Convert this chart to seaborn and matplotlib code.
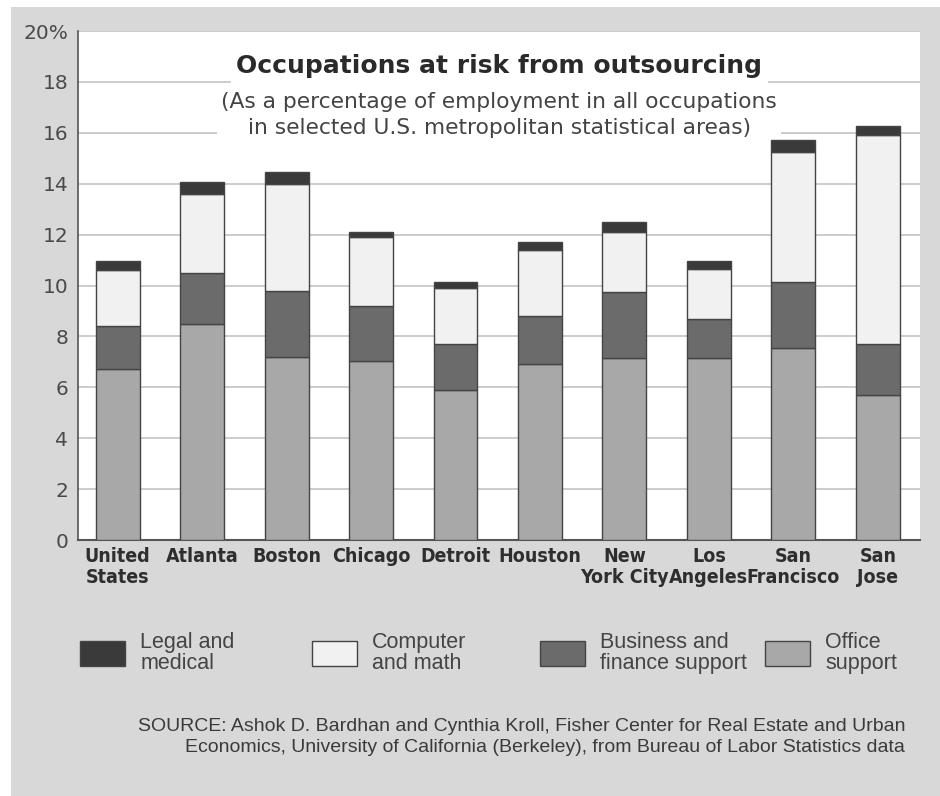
import matplotlib
matplotlib.use("Agg")
import matplotlib.pyplot as plt
from matplotlib.patches import Rectangle
import seaborn as sns
import numpy as np

cities = ["United\nStates", "Atlanta", "Boston", "Chicago", "Detroit", "Houston",
          "New\nYork City", "Los\nAngeles", "San\nFrancisco", "San\nJose"]
office_support = [6.7, 8.5, 7.2, 7.05, 5.9, 6.9, 7.15, 7.15, 7.55, 5.7]
business_finance = [1.7, 2.0, 2.6, 2.15, 1.8, 1.9, 2.6, 1.55, 2.6, 2.0]
computer_math = [2.2, 3.1, 4.2, 2.7, 2.2, 2.6, 2.35, 1.95, 5.1, 8.2]
legal_medical = [0.35, 0.45, 0.45, 0.2, 0.25, 0.3, 0.4, 0.3, 0.45, 0.35]
yticks = [0, 2, 4, 6, 8, 10, 12, 14, 16, 18, 20]
ytick_labels = ["0", "2", "4", "6", "8", "10", "12", "14", "16", "18", "20%"]

sns.set_theme(style="white")
plt.rcParams['font.family'] = ['Liberation Sans', 'DejaVu Sans']

bg = "#d8d8d8"
W, H = 940, 796
fig = plt.figure(figsize=(9.4, 7.96), dpi=100, facecolor="white")
fig.patches.append(Rectangle((11 / W, 0), 1 - 11 / W, 1 - 7 / H, transform=fig.transFigure,
                             facecolor=bg, edgecolor="none", zorder=-10))
ax = fig.add_axes([78 / W, 1 - 540 / H, 842 / W, 509 / H])
ax.set_facecolor("white")

series = [
    ("Office\nsupport", office_support, "#a8a8a8"),
    ("Business and\nfinance support", business_finance, "#6b6b6b"),
    ("Computer\nand math", computer_math, "#f1f1f1"),
    ("Legal and\nmedical", legal_medical, "#3a3a3a"),
]
bottom = np.zeros(len(cities))
handles = {}
for name, vals, col in series:
    sns.barplot(x=cities, y=vals, bottom=bottom, color=col, ax=ax, width=0.52,
                edgecolor="#444444", linewidth=1.0, label=name, saturation=1, zorder=3)
    handles[name] = ax.containers[-1]
    bottom = bottom + np.array(vals)
if ax.get_legend():
    ax.get_legend().remove()

ax.set_ylim(0, 20)
ax.set_xlim(-0.47, len(cities) - 0.5)
ax.set_yticks(yticks)
ax.set_yticklabels(ytick_labels)
ax.yaxis.grid(True, color="#c4c4c4", linewidth=1.2, zorder=0)
ax.set_axisbelow(True)
for s in ["top", "right"]:
    ax.spines[s].set_visible(False)
ax.spines["left"].set_color("#555555")
ax.spines["bottom"].set_color("#555555")
ax.spines["left"].set_linewidth(1.2)
ax.spines["bottom"].set_linewidth(1.5)
ax.tick_params(axis="y", length=0, pad=7)
for lbl in ax.get_yticklabels():
    lbl.set_fontfamily(['DejaVu Sans'])
    lbl.set_fontsize(14.5)
    lbl.set_color("#4a4a4a")
ax.tick_params(axis="x", length=0, pad=5)
for lbl in ax.get_xticklabels():
    lbl.set_fontfamily(['DejaVu Sans'])
    lbl.set_fontstretch("condensed")
    lbl.set_fontweight("bold")
    lbl.set_fontsize(14)
    lbl.set_color("#2e2e2e")
    lbl.set_verticalalignment("top")
    lbl.set_linespacing(1.15)

ax.text(0.5, 0.932, "Occupations at risk from outsourcing", transform=ax.transAxes,
        ha="center", va="center", fontsize=18, fontweight="bold", color="#2a2a2a",
        fontfamily=['DejaVu Sans'], zorder=2,
        bbox=dict(facecolor="white", edgecolor="none", pad=4))
ax.text(0.5, 0.835, "(As a percentage of employment in all occupations\nin selected U.S. metropolitan statistical areas)",
        transform=ax.transAxes, ha="center", va="center", fontsize=15.7, color="#444444",
        fontfamily=['DejaVu Sans'], linespacing=1.33, zorder=2,
        bbox=dict(facecolor="white", edgecolor="none", pad=3))

order = ["Legal and\nmedical", "Computer\nand math", "Business and\nfinance support", "Office\nsupport"]
square_x = [80, 312, 540, 765]
for name, sx in zip(order, square_x):
    leg = fig.legend([handles[name]], [name], loc="center left",
                     bbox_to_anchor=(sx / W, 1 - 653 / H), frameon=False,
                     fontsize=15.5, handlelength=2.1, handleheight=1.4, handletextpad=0.7,
                     borderpad=0, borderaxespad=0)
    for t in leg.get_texts():
        t.set_color("#444444")
        t.set_linespacing(1.0)

fig.text(905 / W, 1 - 737 / H,
         "SOURCE: Ashok D. Bardhan and Cynthia Kroll, Fisher Center for Real Estate and Urban\n"
         "Economics, University of California (Berkeley), from Bureau of Labor Statistics data",
         ha="right", va="center", multialignment="right", fontsize=14, color="#3a3a3a",
         fontfamily=['Liberation Sans'], linespacing=1.3)

fig.savefig("out.png", dpi=100, facecolor="white")
